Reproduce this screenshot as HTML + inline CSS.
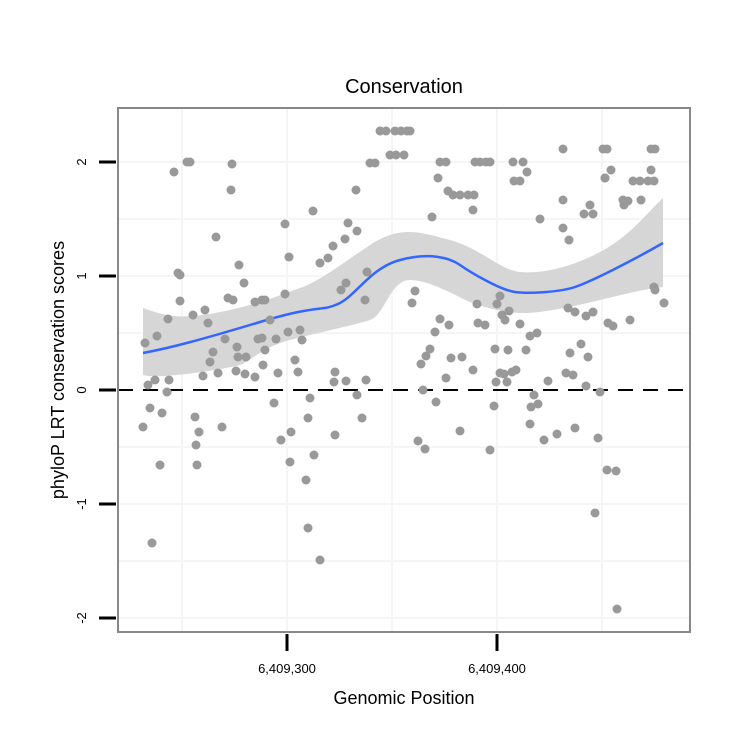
<!DOCTYPE html>
<html><head><meta charset="utf-8"><style>body{margin:0;background:#fff}</style></head><body>
<svg width="750" height="750" xmlns="http://www.w3.org/2000/svg" font-family="Liberation Sans, sans-serif">
<rect width="750" height="750" fill="#fff"/>
<g stroke="#f5f5f5" stroke-width="2">
<line x1="118" x2="690" y1="219" y2="219"/><line x1="118" x2="690" y1="333" y2="333"/><line x1="118" x2="690" y1="447" y2="447"/><line x1="118" x2="690" y1="561" y2="561"/>
<line y1="108" y2="632" x1="182" x2="182"/><line y1="108" y2="632" x1="392" x2="392"/><line y1="108" y2="632" x1="602" x2="602"/>
<line y1="108" y2="632" x1="287" x2="287"/><line y1="108" y2="632" x1="497" x2="497"/>
<line x1="118" x2="690" y1="162" y2="162"/><line x1="118" x2="690" y1="276" y2="276"/><line x1="118" x2="690" y1="504" y2="504"/><line x1="118" x2="690" y1="618" y2="618"/>
</g>
<path d="M143,308 C165,316 180,320 220,312 S280,295 300,288 S340,265 370,245 S420,232 450,240 S500,270 520,272 S570,268 600,252 S645,215 663,198 L663,287 C640,290 620,295 600,300 S540,314 520,313 S480,306 470,302 S430,280 410,280 S385,315 370,320 S320,332 290,340 S250,362 240,365 S160,380 143,375 Z" fill="#d6d6d6"/>
<g fill="#999">
<script>
</script>
</g>
<g id="pts" fill="#999"></g>
<line x1="118" x2="690" y1="390" y2="390" stroke="#000" stroke-width="2" stroke-dasharray="15,10"/>
<path d="M143,353 C170,348 200,340 260,322 S320,312 338,304 S370,268 400,260 S450,258 460,265 S500,290 515,292 S560,292 575,287 S630,262 663,243" fill="none" stroke="#3366ff" stroke-width="2.5"/>
<rect x="118" y="108" width="572" height="524" fill="none" stroke="#888" stroke-width="2"/>
<g stroke="#000" stroke-width="3">
<line x1="99" x2="116" y1="162" y2="162"/><line x1="99" x2="116" y1="276" y2="276"/><line x1="99" x2="116" y1="390" y2="390"/><line x1="99" x2="116" y1="504" y2="504"/><line x1="99" x2="116" y1="618" y2="618"/>
<line x1="287" x2="287" y1="634" y2="651"/><line x1="497" x2="497" y1="634" y2="651"/>
</g>
<g font-size="13" text-anchor="middle">
<text transform="translate(86,162) rotate(-90)">2</text>
<text transform="translate(86,276) rotate(-90)">1</text>
<text transform="translate(86,390) rotate(-90)">0</text>
<text transform="translate(86,504) rotate(-90)">-1</text>
<text transform="translate(86,618) rotate(-90)">-2</text>
<text x="287" y="673">6,409,300</text>
<text x="497" y="673">6,409,400</text>
</g>
<text x="404" y="704" font-size="18" text-anchor="middle">Genomic Position</text>
<text transform="translate(64,370) rotate(-90)" font-size="18" text-anchor="middle">phyloP LRT conservation scores</text>
<text x="404" y="93" font-size="20" text-anchor="middle">Conservation</text>
<g fill="#999">
<circle cx="143" cy="427" r="4.5"/><circle cx="145" cy="343" r="4.5"/><circle cx="148" cy="385" r="4.5"/><circle cx="150" cy="408" r="4.5"/><circle cx="152" cy="543" r="4.5"/><circle cx="155" cy="380" r="4.5"/><circle cx="157" cy="336" r="4.5"/><circle cx="160" cy="465" r="4.5"/><circle cx="162" cy="413" r="4.5"/><circle cx="167" cy="392" r="4.5"/><circle cx="168" cy="319" r="4.5"/><circle cx="169" cy="380" r="4.5"/><circle cx="174" cy="172" r="4.5"/><circle cx="178" cy="273" r="4.5"/><circle cx="180" cy="275" r="4.5"/><circle cx="180" cy="301" r="4.5"/><circle cx="187" cy="162" r="4.5"/><circle cx="190" cy="162" r="4.5"/><circle cx="193" cy="315" r="4.5"/><circle cx="195" cy="417" r="4.5"/><circle cx="196" cy="445" r="4.5"/><circle cx="197" cy="465" r="4.5"/><circle cx="199" cy="432" r="4.5"/><circle cx="203" cy="376" r="4.5"/><circle cx="205" cy="310" r="4.5"/><circle cx="208" cy="323" r="4.5"/><circle cx="210" cy="362" r="4.5"/><circle cx="216" cy="237" r="4.5"/><circle cx="213" cy="352" r="4.5"/><circle cx="218" cy="373" r="4.5"/><circle cx="222" cy="427" r="4.5"/><circle cx="225" cy="339" r="4.5"/><circle cx="231" cy="190" r="4.5"/><circle cx="232" cy="164" r="4.5"/><circle cx="236" cy="371" r="4.5"/><circle cx="237" cy="347" r="4.5"/><circle cx="238" cy="357" r="4.5"/><circle cx="228" cy="298" r="4.5"/><circle cx="233" cy="300" r="4.5"/><circle cx="244" cy="283" r="4.5"/><circle cx="245" cy="374" r="4.5"/><circle cx="246" cy="357" r="4.5"/><circle cx="239" cy="265" r="4.5"/><circle cx="255" cy="302" r="4.5"/><circle cx="258" cy="339" r="4.5"/><circle cx="255" cy="377" r="4.5"/><circle cx="262" cy="300" r="4.5"/><circle cx="265" cy="300" r="4.5"/><circle cx="262" cy="338" r="4.5"/><circle cx="263" cy="365" r="4.5"/><circle cx="265" cy="350" r="4.5"/><circle cx="270" cy="320" r="4.5"/><circle cx="274" cy="403" r="4.5"/><circle cx="276" cy="339" r="4.5"/><circle cx="278" cy="373" r="4.5"/><circle cx="281" cy="440" r="4.5"/><circle cx="285" cy="294" r="4.5"/><circle cx="288" cy="332" r="4.5"/><circle cx="290" cy="462" r="4.5"/><circle cx="291" cy="432" r="4.5"/><circle cx="295" cy="360" r="4.5"/><circle cx="298" cy="372" r="4.5"/><circle cx="300" cy="330" r="4.5"/><circle cx="302" cy="340" r="4.5"/><circle cx="306" cy="480" r="4.5"/><circle cx="308" cy="528" r="4.5"/><circle cx="314" cy="455" r="4.5"/><circle cx="308" cy="418" r="4.5"/><circle cx="310" cy="398" r="4.5"/><circle cx="320" cy="560" r="4.5"/><circle cx="334" cy="382" r="4.5"/><circle cx="335" cy="435" r="4.5"/><circle cx="335" cy="372" r="4.5"/><circle cx="346" cy="381" r="4.5"/><circle cx="357" cy="395" r="4.5"/><circle cx="362" cy="418" r="4.5"/><circle cx="366" cy="380" r="4.5"/><circle cx="313" cy="211" r="4.5"/><circle cx="285" cy="224" r="4.5"/><circle cx="289" cy="257" r="4.5"/><circle cx="320" cy="263" r="4.5"/><circle cx="328" cy="258" r="4.5"/><circle cx="333" cy="246" r="4.5"/><circle cx="341" cy="290" r="4.5"/><circle cx="345" cy="239" r="4.5"/><circle cx="348" cy="223" r="4.5"/><circle cx="356" cy="190" r="4.5"/><circle cx="357" cy="231" r="4.5"/><circle cx="346" cy="283" r="4.5"/><circle cx="365" cy="300" r="4.5"/><circle cx="367" cy="272" r="4.5"/><circle cx="370" cy="163" r="4.5"/><circle cx="375" cy="163" r="4.5"/><circle cx="380" cy="131" r="4.5"/><circle cx="386" cy="131" r="4.5"/><circle cx="390" cy="155" r="4.5"/><circle cx="396" cy="155" r="4.5"/><circle cx="395" cy="131" r="4.5"/><circle cx="401" cy="131" r="4.5"/><circle cx="407" cy="131" r="4.5"/><circle cx="410" cy="131" r="4.5"/><circle cx="404" cy="155" r="4.5"/>
<circle cx="440" cy="162" r="4.5"/><circle cx="446" cy="162" r="4.5"/><circle cx="438" cy="178" r="4.5"/><circle cx="448" cy="191" r="4.5"/><circle cx="453" cy="195" r="4.5"/><circle cx="460" cy="195" r="4.5"/><circle cx="468" cy="195" r="4.5"/><circle cx="474" cy="195" r="4.5"/><circle cx="473" cy="210" r="4.5"/><circle cx="432" cy="217" r="4.5"/><circle cx="475" cy="162" r="4.5"/><circle cx="480" cy="162" r="4.5"/><circle cx="486" cy="162" r="4.5"/><circle cx="490" cy="162" r="4.5"/><circle cx="513" cy="162" r="4.5"/><circle cx="523" cy="162" r="4.5"/><circle cx="527" cy="172" r="4.5"/><circle cx="514" cy="181" r="4.5"/><circle cx="520" cy="181" r="4.5"/><circle cx="563" cy="149" r="4.5"/><circle cx="603" cy="149" r="4.5"/><circle cx="607" cy="149" r="4.5"/><circle cx="605" cy="178" r="4.5"/><circle cx="651" cy="149" r="4.5"/><circle cx="655" cy="149" r="4.5"/><circle cx="651" cy="170" r="4.5"/><circle cx="605" cy="178" r="4.5"/><circle cx="633" cy="181" r="4.5"/><circle cx="640" cy="181" r="4.5"/><circle cx="648" cy="181" r="4.5"/><circle cx="654" cy="181" r="4.5"/><circle cx="611" cy="170" r="4.5"/><circle cx="623" cy="200" r="4.5"/><circle cx="624" cy="205" r="4.5"/><circle cx="628" cy="201" r="4.5"/><circle cx="641" cy="200" r="4.5"/><circle cx="563" cy="200" r="4.5"/><circle cx="584" cy="214" r="4.5"/><circle cx="590" cy="205" r="4.5"/><circle cx="593" cy="214" r="4.5"/><circle cx="540" cy="219" r="4.5"/><circle cx="569" cy="240" r="4.5"/><circle cx="563" cy="228" r="4.5"/><circle cx="654" cy="287" r="4.5"/><circle cx="655" cy="290" r="4.5"/><circle cx="664" cy="303" r="4.5"/><circle cx="415" cy="291" r="4.5"/><circle cx="412" cy="303" r="4.5"/><circle cx="440" cy="319" r="4.5"/><circle cx="435" cy="332" r="4.5"/><circle cx="421" cy="364" r="4.5"/><circle cx="426" cy="356" r="4.5"/><circle cx="449" cy="325" r="4.5"/><circle cx="478" cy="323" r="4.5"/><circle cx="485" cy="325" r="4.5"/><circle cx="477" cy="304" r="4.5"/><circle cx="497" cy="304" r="4.5"/><circle cx="500" cy="296" r="4.5"/><circle cx="502" cy="315" r="4.5"/><circle cx="505" cy="320" r="4.5"/><circle cx="509" cy="311" r="4.5"/><circle cx="520" cy="324" r="4.5"/><circle cx="530" cy="336" r="4.5"/><circle cx="537" cy="333" r="4.5"/><circle cx="430" cy="349" r="4.5"/><circle cx="451" cy="358" r="4.5"/><circle cx="462" cy="357" r="4.5"/><circle cx="495" cy="349" r="4.5"/><circle cx="508" cy="350" r="4.5"/><circle cx="568" cy="308" r="4.5"/><circle cx="575" cy="312" r="4.5"/><circle cx="586" cy="316" r="4.5"/><circle cx="593" cy="312" r="4.5"/><circle cx="588" cy="357" r="4.5"/><circle cx="581" cy="344" r="4.5"/><circle cx="613" cy="326" r="4.5"/><circle cx="630" cy="320" r="4.5"/><circle cx="608" cy="323" r="4.5"/><circle cx="446" cy="378" r="4.5"/><circle cx="500" cy="373" r="4.5"/><circle cx="512" cy="372" r="4.5"/><circle cx="436" cy="402" r="4.5"/><circle cx="494" cy="406" r="4.5"/><circle cx="423" cy="390" r="4.5"/><circle cx="418" cy="441" r="4.5"/><circle cx="425" cy="449" r="4.5"/><circle cx="460" cy="431" r="4.5"/><circle cx="490" cy="450" r="4.5"/><circle cx="496" cy="382" r="4.5"/><circle cx="507" cy="382" r="4.5"/><circle cx="534" cy="395" r="4.5"/><circle cx="531" cy="407" r="4.5"/><circle cx="538" cy="404" r="4.5"/><circle cx="530" cy="424" r="4.5"/><circle cx="544" cy="440" r="4.5"/><circle cx="557" cy="434" r="4.5"/><circle cx="575" cy="428" r="4.5"/><circle cx="586" cy="386" r="4.5"/><circle cx="600" cy="392" r="4.5"/><circle cx="598" cy="438" r="4.5"/><circle cx="607" cy="470" r="4.5"/><circle cx="616" cy="471" r="4.5"/><circle cx="595" cy="513" r="4.5"/><circle cx="617" cy="609" r="4.5"/><circle cx="566" cy="373" r="4.5"/><circle cx="573" cy="375" r="4.5"/><circle cx="504" cy="374" r="4.5"/><circle cx="516" cy="370" r="4.5"/><circle cx="473" cy="370" r="4.5"/><circle cx="548" cy="381" r="4.5"/><circle cx="526" cy="350" r="4.5"/><circle cx="570" cy="353" r="4.5"/>
</g>
</svg>
</body></html>
